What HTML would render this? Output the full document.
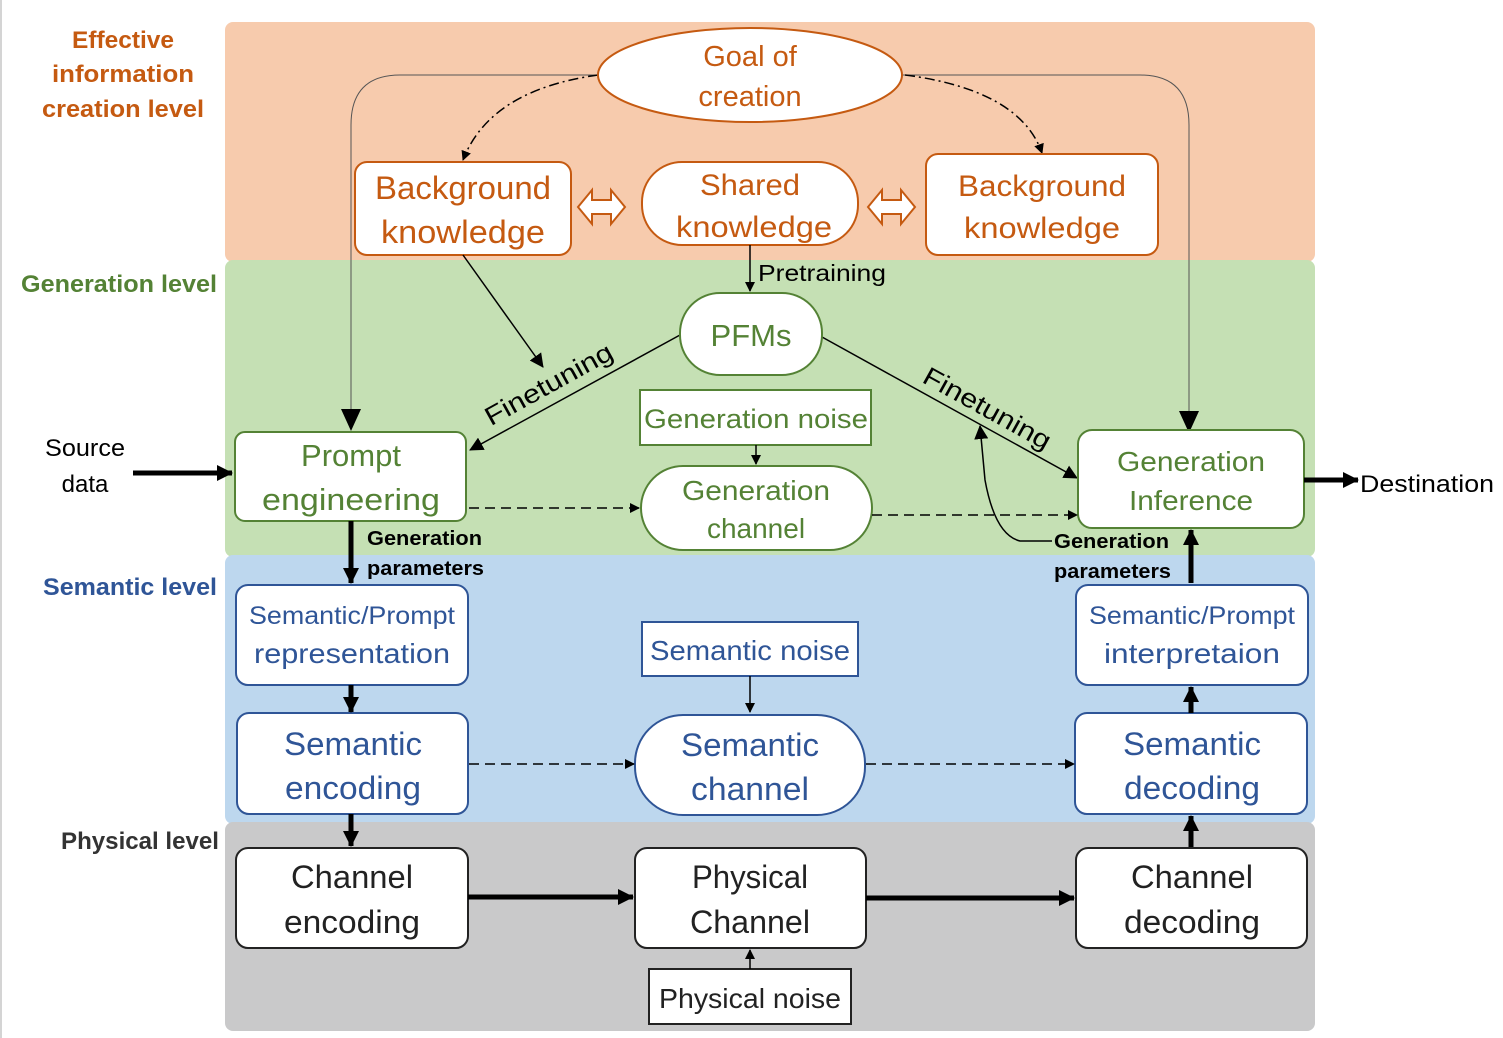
<!DOCTYPE html>
<html><head><meta charset="utf-8"><style>html,body{margin:0;padding:0;background:#fff}svg{display:block}text{font-family:"Liberation Sans",sans-serif}</style></head>
<body>
<svg width="1503" height="1038" viewBox="0 0 1503 1038" xmlns="http://www.w3.org/2000/svg">
<defs>
<marker id="a" markerWidth="10" markerHeight="10" refX="9" refY="5" orient="auto" markerUnits="userSpaceOnUse"><path d="M0,0 L10,5 L0,10 z" fill="#000"/></marker>
<marker id="b" markerWidth="14" markerHeight="14" refX="13" refY="7" orient="auto" markerUnits="userSpaceOnUse"><path d="M0,0 L14,7 L0,14 z" fill="#000"/></marker>
<marker id="d" markerWidth="16" markerHeight="16" refX="15" refY="8" orient="auto" markerUnits="userSpaceOnUse"><path d="M0,0 L16,8 L0,16 z" fill="#000"/></marker>
<marker id="c" markerWidth="22" markerHeight="20" refX="21" refY="10" orient="auto" markerUnits="userSpaceOnUse"><path d="M0,0 L22,10 L0,20 z" fill="#000"/></marker>
</defs>
<line x1="1" y1="0" x2="1" y2="1038" stroke="#aaa"/>
<rect x="225" y="22" width="1090" height="240" rx="8" fill="#f7cbad"/>
<rect x="225" y="260" width="1090" height="297" rx="8" fill="#c5e0b4"/>
<rect x="225" y="555" width="1090" height="269" rx="8" fill="#bdd7ee"/>
<rect x="225" y="822" width="1090" height="209" rx="8" fill="#c9c9ca"/>

<g font-weight="bold" font-size="24" text-anchor="middle">
<text x="123" y="48" fill="#c55a11" textLength="102" lengthAdjust="spacingAndGlyphs">Effective</text>
<text x="123" y="82" fill="#c55a11" textLength="142" lengthAdjust="spacingAndGlyphs">information</text>
<text x="123" y="117" fill="#c55a11" textLength="162" lengthAdjust="spacingAndGlyphs">creation level</text>
<text x="119" y="292" fill="#548235" textLength="196" lengthAdjust="spacingAndGlyphs">Generation level</text>
<text x="130" y="595" fill="#2f5597" textLength="174" lengthAdjust="spacingAndGlyphs">Semantic level</text>
<text x="140" y="849" fill="#333" textLength="158" lengthAdjust="spacingAndGlyphs">Physical level</text>
</g>

<path d="M600,75 L400,75 Q351,75 351,125 L351,430" fill="none" stroke="#555" stroke-width="1" marker-end="url(#c)"/>
<path d="M902,75 L1140,75 Q1189,75 1189,125 L1189,432" fill="none" stroke="#555" stroke-width="1" marker-end="url(#c)"/>
<path d="M598,75 Q490,90 463,160" fill="none" stroke="#000" stroke-width="1.5" stroke-dasharray="10,4,2,4" marker-end="url(#a)"/>
<path d="M905,75 Q1020,90 1042,153" fill="none" stroke="#000" stroke-width="1.5" stroke-dasharray="10,4,2,4" marker-end="url(#a)"/>

<ellipse cx="750" cy="75" rx="152" ry="47" fill="#fff" stroke="#c55a11" stroke-width="2"/>
<g fill="#c55a11" font-size="29" text-anchor="middle">
<text x="750" y="66">Goal of</text><text x="750" y="106">creation</text></g>
<rect x="355" y="162" width="216" height="93" rx="12" fill="#fff" stroke="#c55a11" stroke-width="2"/>
<rect x="642" y="162" width="216" height="83" rx="40" fill="#fff" stroke="#c55a11" stroke-width="2"/>
<rect x="926" y="154" width="232" height="101" rx="12" fill="#fff" stroke="#c55a11" stroke-width="2"/>
<g fill="#c55a11" font-size="32" text-anchor="middle">
<text x="463" y="199" textLength="176" lengthAdjust="spacingAndGlyphs">Background</text>
<text x="463" y="243" textLength="164" lengthAdjust="spacingAndGlyphs">knowledge</text>
<text x="750" y="195" font-size="30" textLength="100" lengthAdjust="spacingAndGlyphs">Shared</text>
<text x="754" y="237" font-size="30" textLength="156" lengthAdjust="spacingAndGlyphs">knowledge</text>
<text x="1042" y="196" font-size="30" textLength="168" lengthAdjust="spacingAndGlyphs">Background</text>
<text x="1042" y="238" font-size="30" textLength="156" lengthAdjust="spacingAndGlyphs">knowledge</text>
</g>
<g fill="#fff" stroke="#c55a11" stroke-width="2">
<path d="M578,207 L592,190 L592,200 L611,200 L611,190 L625,207 L611,224 L611,214 L592,214 L592,224 Z"/>
<path d="M868,207 L882,190 L882,200 L901,200 L901,190 L915,207 L901,224 L901,214 L882,214 L882,224 Z"/>
</g>

<line x1="750" y1="245" x2="750" y2="291" stroke="#000" stroke-width="1.5" marker-end="url(#a)"/>
<text x="758" y="281" font-size="23" fill="#000" textLength="128" lengthAdjust="spacingAndGlyphs">Pretraining</text>
<line x1="463" y1="255" x2="543" y2="367" stroke="#000" stroke-width="1.5" marker-end="url(#b)"/>
<line x1="680" y1="335" x2="470" y2="450" stroke="#000" stroke-width="1.5" marker-end="url(#b)"/>
<line x1="822" y1="337" x2="1077" y2="478" stroke="#000" stroke-width="1.5" marker-end="url(#b)"/>
<text x="553" y="392" font-size="26" text-anchor="middle" textLength="142" lengthAdjust="spacingAndGlyphs" transform="rotate(-29 553 392)">Finetuning</text>
<text x="983" y="416" font-size="26" text-anchor="middle" textLength="142" lengthAdjust="spacingAndGlyphs" transform="rotate(29 983 416)">Finetuning</text>
<path d="M1052,541 L1020,541 Q995,535 985,480 L980,426" fill="none" stroke="#000" stroke-width="1.5" marker-end="url(#b)"/>

<rect x="680" y="293" width="142" height="82" rx="40" fill="#fff" stroke="#548235" stroke-width="2"/>
<text x="751" y="346" font-size="31" fill="#548235" text-anchor="middle">PFMs</text>
<rect x="640" y="390" width="231" height="55" fill="#fff" stroke="#548235" stroke-width="2"/>
<text x="756" y="428" font-size="27" fill="#548235" text-anchor="middle" textLength="224" lengthAdjust="spacingAndGlyphs">Generation noise</text>
<line x1="756" y1="445" x2="756" y2="464" stroke="#000" stroke-width="1.5" marker-end="url(#a)"/>
<rect x="641" y="466" width="231" height="84" rx="42" fill="#fff" stroke="#548235" stroke-width="2"/>
<g fill="#548235" font-size="28" text-anchor="middle">
<text x="756" y="500" textLength="148" lengthAdjust="spacingAndGlyphs">Generation</text>
<text x="756" y="538">channel</text>
</g>
<rect x="235" y="432" width="231" height="89" rx="10" fill="#fff" stroke="#548235" stroke-width="2"/>
<g fill="#548235" font-size="31" text-anchor="middle">
<text x="351" y="466">Prompt</text>
<text x="351" y="510" textLength="178" lengthAdjust="spacingAndGlyphs">engineering</text>
</g>
<rect x="1078" y="430" width="226" height="98" rx="14" fill="#fff" stroke="#548235" stroke-width="2"/>
<g fill="#548235" font-size="28" text-anchor="middle">
<text x="1191" y="471" textLength="148" lengthAdjust="spacingAndGlyphs">Generation</text>
<text x="1191" y="510" textLength="124" lengthAdjust="spacingAndGlyphs">Inference</text>
</g>
<g font-size="24" text-anchor="middle" fill="#000"><text x="85" y="456" textLength="80" lengthAdjust="spacingAndGlyphs">Source</text><text x="85" y="492">data</text></g>
<line x1="133" y1="473" x2="232" y2="473" stroke="#000" stroke-width="5" marker-end="url(#d)"/>
<line x1="1304" y1="480" x2="1358" y2="480" stroke="#000" stroke-width="5" marker-end="url(#d)"/>
<text x="1360" y="492" font-size="24" fill="#000" textLength="134" lengthAdjust="spacingAndGlyphs">Destination</text>
<line x1="469" y1="508" x2="639" y2="508" stroke="#000" stroke-width="1.5" stroke-dasharray="10,6" marker-end="url(#a)"/>
<line x1="872" y1="515" x2="1077" y2="515" stroke="#000" stroke-width="1.5" stroke-dasharray="10,6" marker-end="url(#a)"/>
<line x1="351" y1="521" x2="351" y2="583" stroke="#000" stroke-width="5" marker-end="url(#d)"/>
<line x1="1191" y1="583" x2="1191" y2="530" stroke="#000" stroke-width="5" marker-end="url(#d)"/>
<g font-size="20" font-weight="bold" fill="#000">
<text x="367" y="545" textLength="115" lengthAdjust="spacingAndGlyphs">Generation</text><text x="367" y="575" textLength="117" lengthAdjust="spacingAndGlyphs">parameters</text>
<text x="1054" y="548" textLength="115" lengthAdjust="spacingAndGlyphs">Generation</text><text x="1054" y="578" textLength="117" lengthAdjust="spacingAndGlyphs">parameters</text>
</g>

<g fill="#fff" stroke="#2f5597" stroke-width="2">
<rect x="236" y="585" width="232" height="100" rx="12"/>
<rect x="1076" y="585" width="232" height="100" rx="12"/>
<rect x="237" y="713" width="231" height="101" rx="12"/>
<rect x="1075" y="713" width="232" height="101" rx="12"/>
<rect x="635" y="715" width="230" height="100" rx="48"/>
<rect x="642" y="622" width="216" height="54" rx="0"/>
</g>
<g fill="#2f5597" text-anchor="middle">
<text x="352" y="624" font-size="25" textLength="206" lengthAdjust="spacingAndGlyphs">Semantic/Prompt</text>
<text x="352" y="663" font-size="28" textLength="196" lengthAdjust="spacingAndGlyphs">representation</text>
<text x="1192" y="624" font-size="25" textLength="206" lengthAdjust="spacingAndGlyphs">Semantic/Prompt</text>
<text x="1192" y="663" font-size="28" textLength="176" lengthAdjust="spacingAndGlyphs">interpretaion</text>
<text x="750" y="660" font-size="28" textLength="200" lengthAdjust="spacingAndGlyphs">Semantic noise</text>
<text x="353" y="755" font-size="32" textLength="138" lengthAdjust="spacingAndGlyphs">Semantic</text>
<text x="353" y="799" font-size="32" textLength="136" lengthAdjust="spacingAndGlyphs">encoding</text>
<text x="750" y="756" font-size="32" textLength="138" lengthAdjust="spacingAndGlyphs">Semantic</text>
<text x="750" y="800" font-size="32" textLength="118" lengthAdjust="spacingAndGlyphs">channel</text>
<text x="1192" y="755" font-size="32" textLength="138" lengthAdjust="spacingAndGlyphs">Semantic</text>
<text x="1192" y="799" font-size="32" textLength="136" lengthAdjust="spacingAndGlyphs">decoding</text>
</g>
<line x1="750" y1="676" x2="750" y2="712" stroke="#000" stroke-width="1.5" marker-end="url(#a)"/>
<line x1="351" y1="685" x2="351" y2="712" stroke="#000" stroke-width="5" marker-end="url(#d)"/>
<line x1="351" y1="814" x2="351" y2="846" stroke="#000" stroke-width="5" marker-end="url(#d)"/>
<line x1="1191" y1="713" x2="1191" y2="687" stroke="#000" stroke-width="5" marker-end="url(#d)"/>
<line x1="1191" y1="848" x2="1191" y2="816" stroke="#000" stroke-width="5" marker-end="url(#d)"/>
<line x1="469" y1="764" x2="634" y2="764" stroke="#000" stroke-width="1.5" stroke-dasharray="10,6" marker-end="url(#a)"/>
<line x1="866" y1="764" x2="1074" y2="764" stroke="#000" stroke-width="1.5" stroke-dasharray="10,6" marker-end="url(#a)"/>

<g fill="#fff" stroke="#222" stroke-width="2">
<rect x="236" y="848" width="232" height="100" rx="12"/>
<rect x="635" y="848" width="231" height="100" rx="12"/>
<rect x="1076" y="848" width="231" height="100" rx="12"/>
<rect x="649" y="969" width="202" height="55"/>
</g>
<g fill="#222" text-anchor="middle" font-size="32">
<text x="352" y="888" textLength="122" lengthAdjust="spacingAndGlyphs">Channel</text>
<text x="352" y="933" textLength="136" lengthAdjust="spacingAndGlyphs">encoding</text>
<text x="750" y="888" textLength="116" lengthAdjust="spacingAndGlyphs">Physical</text>
<text x="750" y="933" textLength="120" lengthAdjust="spacingAndGlyphs">Channel</text>
<text x="1192" y="888" textLength="122" lengthAdjust="spacingAndGlyphs">Channel</text>
<text x="1192" y="933" textLength="136" lengthAdjust="spacingAndGlyphs">decoding</text>
<text x="750" y="1008" font-size="28" textLength="182" lengthAdjust="spacingAndGlyphs">Physical noise</text>
</g>
<line x1="468" y1="897" x2="633" y2="897" stroke="#000" stroke-width="5" marker-end="url(#d)"/>
<line x1="866" y1="898" x2="1074" y2="898" stroke="#000" stroke-width="5" marker-end="url(#d)"/>
<line x1="750" y1="969" x2="750" y2="950" stroke="#000" stroke-width="1.5" marker-end="url(#a)"/>
</svg>
</body></html>
